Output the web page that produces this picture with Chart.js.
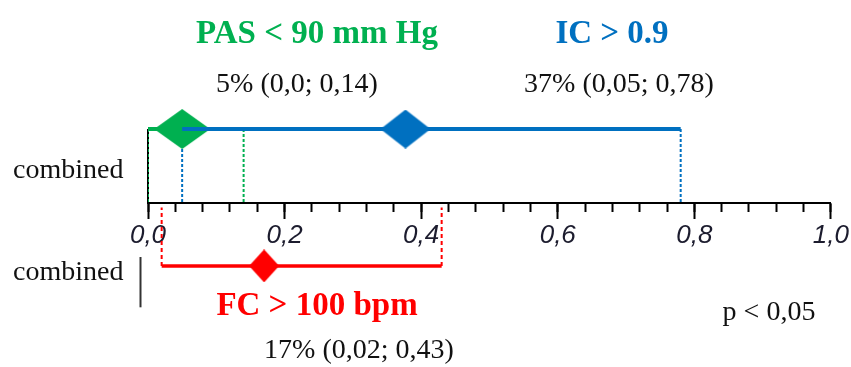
<!DOCTYPE html>
<html>
<head>
<meta charset="utf-8">
<script src="https://cdn.jsdelivr.net/npm/chart.js@4/dist/chart.umd.min.js"></script>
<style>
  html, body { margin: 0; padding: 0; background: #fff; }
  canvas { display: block; }
</style>
</head>
<body>
<canvas id="forestChart" width="851" height="367"></canvas>
<script>
// values
const groups = ['PAS < 90 mm Hg', 'IC > 0.9', 'FC > 100 bpm'];
const estimates = [0.05, 0.377, 0.17];
const lowerCI = [0.0, 0.05, 0.02];
const upperCI = [0.14, 0.78, 0.43];
const summaries = ['5% (0,0; 0,14)', '37% (0,05; 0,78)', '17% (0,02; 0,43)'];
const panels = ['top', 'top', 'bottom'];
const tickLabels = ['0,0', '0,2', '0,4', '0,6', '0,8', '1,0'];
const pValueText = 'p < 0,05';
const rowLabel = 'combined';

// layout / style (not data)
const rowY = { top: 1, bottom: -0.85 };
const colors = ['#00B050', '#0070C0', '#FF0000'];
const diamondSize = [[56, 40], [50, 39], [30, 33]];
const lineWidths = [4, 4, 3.5];
const dashStart = { top: 0, bottom: -0.06 };

const makeDiamond = (w, h, color) => {
  const c = document.createElement('canvas');
  c.width = w;
  c.height = h;
  const g = c.getContext('2d');
  g.fillStyle = color;
  g.beginPath();
  g.moveTo(0, h / 2);
  g.lineTo(w / 2, 0);
  g.lineTo(w, h / 2);
  g.lineTo(w / 2, h);
  g.closePath();
  g.fill();
  return c;
};

const datasets = [];
let order = 100;

// dashed verticals first (lowest layer)
groups.forEach((name, i) => {
  const y = rowY[panels[i]];
  [lowerCI[i], upperCI[i]].forEach(v => {
    datasets.push({
      type: 'line',
      data: [{ x: v, y: y }, { x: v, y: dashStart[panels[i]] }],
      borderColor: colors[i],
      borderWidth: 2,
      borderDash: i === 2 ? [4, 3] : [3, 2],
      pointRadius: 0,
      order: order--
    });
  });
});

// CI line, then diamond, per group
groups.forEach((name, i) => {
  const y = rowY[panels[i]];
  datasets.push({
    type: 'line',
    label: name,
    data: [{ x: lowerCI[i], y: y }, { x: upperCI[i], y: y }],
    borderColor: colors[i],
    borderWidth: lineWidths[i],
    borderCapStyle: 'butt',
    pointRadius: 0,
    order: order--
  });
  datasets.push({
    type: 'scatter',
    data: [{ x: estimates[i], y: y }],
    pointStyle: makeDiamond(diamondSize[i][0], diamondSize[i][1], colors[i]),
    pointRadius: 10,
    pointHoverRadius: 10,
    order: order--
  });
});

const serif = 'Liberation Serif, Times New Roman, serif';

const annotations = {
  id: 'annotations',
  beforeDatasetsDraw(chart) {
    const { ctx, scales: { x, y } } = chart;
    ctx.save();
    ctx.strokeStyle = '#000';
    ctx.lineWidth = 2;
    ctx.beginPath();
    ctx.moveTo(x.getPixelForValue(0), y.getPixelForValue(rowY.top));
    ctx.lineTo(x.getPixelForValue(0), y.getPixelForValue(0));
    ctx.stroke();
    ctx.strokeStyle = '#333';
    ctx.beginPath();
    ctx.moveTo(x.getPixelForValue(0) - 7.5, y.getPixelForValue(-0.73));
    ctx.lineTo(x.getPixelForValue(0) - 7.5, y.getPixelForValue(-1.41));
    ctx.stroke();
    ctx.restore();
  },
  afterDatasetsDraw(chart) {
    const { ctx } = chart;
    const put = (text, px, py, align, font, color) => {
      ctx.font = font;
      ctx.fillStyle = color;
      ctx.textAlign = align;
      ctx.textBaseline = 'alphabetic';
      ctx.fillText(text, px, py);
    };
    ctx.save();
    const bold = 'bold 33px ' + serif;
    const reg = '28px ' + serif;
    put(groups[0], 317, 43, 'center', bold, colors[0]);
    put(groups[1], 612, 43, 'center', bold, colors[1]);
    put(groups[2], 317, 315, 'center', bold, colors[2]);
    put(summaries[0], 297, 92, 'center', reg, '#111');
    put(summaries[1], 619, 92, 'center', reg, '#111');
    put(summaries[2], 359, 358, 'center', reg, '#111');
    put(rowLabel, 13, 178, 'left', reg, '#111');
    put(rowLabel, 13, 280, 'left', reg, '#111');
    put(pValueText, 769, 320, 'center', reg, '#111');
    ctx.restore();
  }
};

new Chart(document.getElementById('forestChart'), {
  data: { datasets },
  options: {
    responsive: false,
    animation: false,
    layout: { padding: { left: 148, right: 19, top: 0, bottom: 0 } },
    plugins: { legend: { display: false }, tooltip: { enabled: false } },
    scales: {
      x: {
        type: 'linear',
        min: 0,
        max: 1,
        position: { y: 0 },
        grid: { drawOnChartArea: false, tickLength: 15, tickWidth: 2, color: '#000' },
        border: { color: '#000', width: 2 },
        ticks: {
          stepSize: 0.2,
          autoSkip: false,
          maxRotation: 0,
          padding: 2,
          color: '#1c1c2e',
          font: { family: 'Liberation Sans, Arial, sans-serif', style: 'italic', size: 26 },
          callback: (value, index) => tickLabels[index]
        }
      },
      xMinor: {
        type: 'linear',
        axis: 'x',
        min: 0,
        max: 1,
        position: { y: 0 },
        grid: { drawOnChartArea: false, tickLength: 9, tickWidth: 2, color: '#000' },
        border: { display: false },
        ticks: { stepSize: 0.04, display: false }
      },
      y: { type: 'linear', min: -2.068, max: 2.595, display: false }
    }
  },
  plugins: [annotations]
});
</script>
</body>
</html>
